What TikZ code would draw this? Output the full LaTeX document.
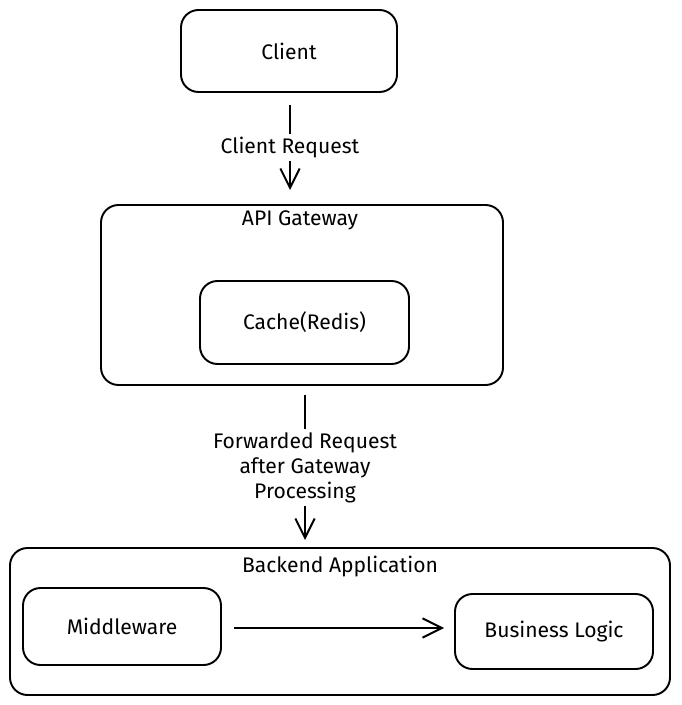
\documentclass[tikz,border=0pt]{standalone}
\usepackage{fontspec}
\setmainfont{Fira Sans}
\usetikzlibrary{arrows.meta}

\begin{document}
\begin{tikzpicture}[x=0.02cm,y=-0.02cm,
		font=\fontsize{12}{14.2}\selectfont,
		box/.style={draw,line width=1.1pt,rounded corners=0.35cm,inner sep=0pt},
		flow/.style={-{Straight Barb[length=11pt,width=11pt,line width=1.1pt]},line width=1.5pt},
		tag/.style={fill=white,inner sep=2pt,align=center}]
		\useasboundingbox (0,0) rectangle (681,705);
		\node [box,minimum width=216*0.02cm,minimum height=82*0.02cm] (client) at (289,51) {Client};
		\node [box,minimum width=402*0.02cm,minimum height=180*0.02cm] (gateway) at (302,295) {};
		\node at (300,220) (gatewaytitle) {API Gateway};
		\node [box,minimum width=209*0.02cm,minimum height=83*0.02cm] (cache) at (304.5,322.5) {Cache(Redis)};
		\node [box,minimum width=660*0.02cm,minimum height=147*0.02cm] (backend) at (340,621.5) {};
		\node at (340,567) (backendtitle) {Backend Application};
		\node [box,minimum width=198*0.02cm,minimum height=77*0.02cm] (middleware) at (122,626.5) {Middleware};
		\node [box,minimum width=198*0.02cm,minimum height=75*0.02cm] (business) at (554,631.5) {Business Logic};
		\coordinate (a1) at (290,105);
		\coordinate (a2) at (290,190);
		\draw [flow] (a1) -- node[tag] {Client Request} (a2);
		\coordinate (b1) at (305,395);
		\coordinate (b2) at (305,540);
		\draw [flow] (b1) -- node[tag] {Forwarded Request\\after Gateway\\Processing} (b2);
		\draw [flow,shorten <=12*0.02cm,shorten >=10*0.02cm] (middleware.east|-0,628) -- (business.west|-0,628);
	\end{tikzpicture}
\end{document}
